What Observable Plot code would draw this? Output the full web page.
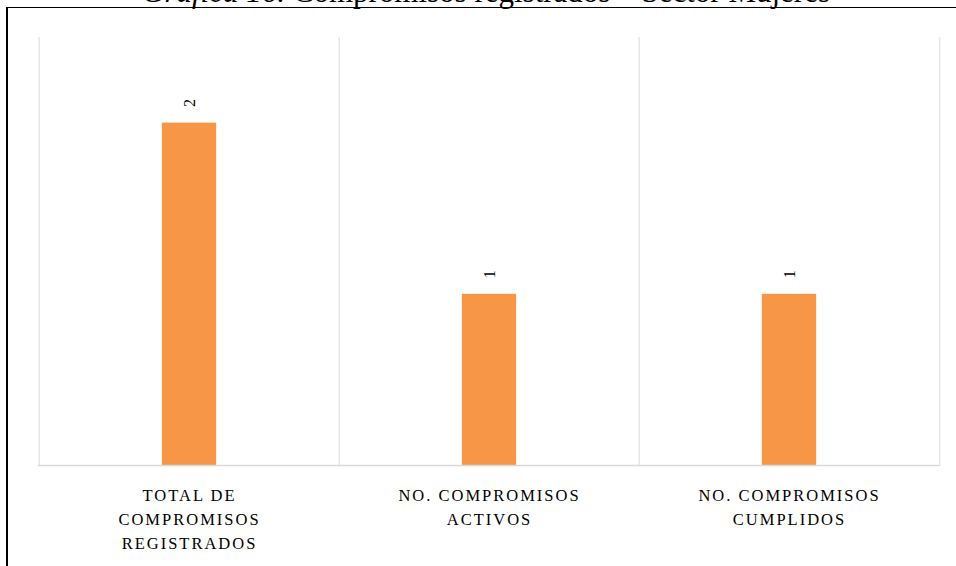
<!DOCTYPE html>
<html>
<head>
<meta charset="utf-8">
<script src="https://cdn.jsdelivr.net/npm/d3@7"></script>
<script src="https://cdn.jsdelivr.net/npm/@observablehq/plot@0.6"></script>
<style>
  html, body { margin: 0; padding: 0; background: #fff; overflow: hidden; }
  #wrap { position: relative; width: 956px; height: 566px; overflow: hidden; }
  #title { position: absolute; left: 0; width: 972px; top: -24px; text-align: center;
           font-family: "Liberation Serif", "Times New Roman", serif; font-size: 31px; line-height: 31px; color: #000; white-space: nowrap; }
  #frame { position: absolute; left: 6px; top: 7px; width: 1000px; height: 700px;
           border-left: 2px solid #000; border-top: 1.5px solid #000; }
  #chart { position: absolute; left: 0; top: 0; }
  #chart svg g[aria-label="x-axis tick label"] text { letter-spacing: 2px; }
</style>
</head>
<body>
<div id="wrap">
  <div id="title"><i>Gráfica 16.</i> Compromisos registrados – Sector Mujeres</div>
  <div id="frame"></div>
  <div id="chart"></div>
</div>
<script>
const categories = ["TOTAL DE COMPROMISOS REGISTRADOS", "NO. COMPROMISOS ACTIVOS", "NO. COMPROMISOS CUMPLIDOS"];
const tickLabels = ["TOTAL DE\nCOMPROMISOS\nREGISTRADOS", "NO. COMPROMISOS\nACTIVOS", "NO. COMPROMISOS\nCUMPLIDOS"];
const values = [2, 1, 1];

const data = categories.map((c, i) => ({category: c, value: values[i]}));
const W = 956, H = 566;
const mL = 38, mR = 16, mT = 37, mB = 101;
const band = (W - mL - mR) / categories.length;

const chart = Plot.plot({
  width: W, height: H,
  marginLeft: mL, marginRight: mR, marginTop: mT, marginBottom: mB,
  style: {fontFamily: '"Liberation Serif", "Times New Roman", serif', background: "transparent"},
  x: {domain: categories, padding: 0, axis: null},
  y: {domain: [0, 2.5], axis: null},
  marks: [
    Plot.ruleX(categories, {x: d => d, dx: -band / 2, stroke: "#d9d9d9", strokeWidth: 1}),
    Plot.ruleX(categories.slice(-1), {x: d => d, dx: band / 2, stroke: "#d9d9d9", strokeWidth: 1}),
    Plot.barY(data, {x: "category", y: "value", fill: "#f79646", insetLeft: (band - 55) / 2, insetRight: (band - 55) / 2}),
    Plot.ruleY([0], {stroke: "#d9d9d9", strokeWidth: 1.5}),
    Plot.text(data, {x: "category", y: "value", text: d => String(d.value), rotate: -90, dy: -20, fontSize: 16, fill: "#000"}),
    Plot.axisX({
      tickSize: 0, tickPadding: 19, fontSize: 16.5, lineHeight: 1.45,
      tickFormat: d => tickLabels[categories.indexOf(d)],
      fill: "#000", label: null
    })
  ]
});
document.getElementById("chart").appendChild(chart);
</script>
</body>
</html>
